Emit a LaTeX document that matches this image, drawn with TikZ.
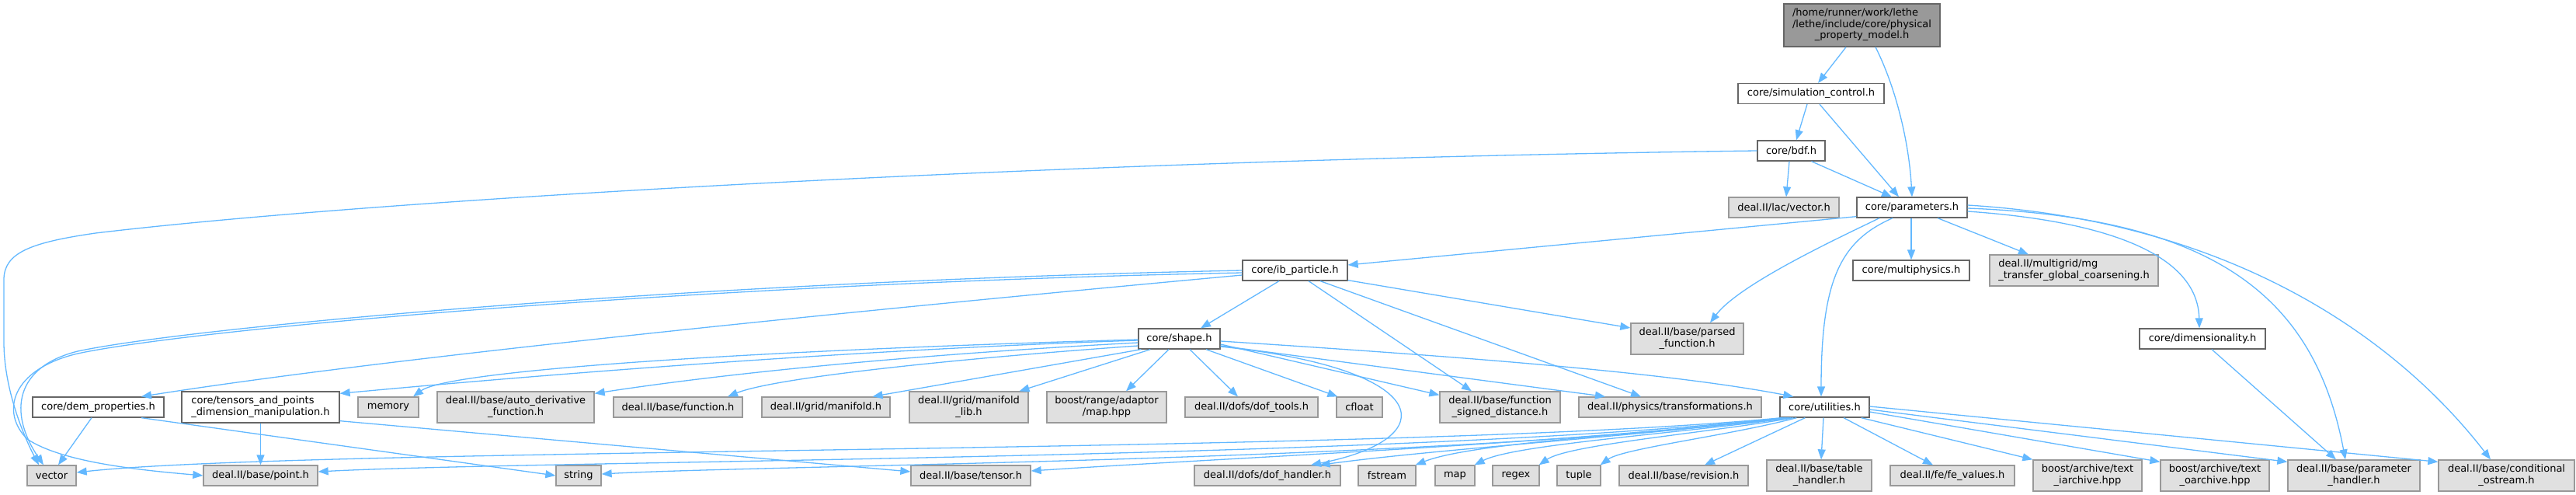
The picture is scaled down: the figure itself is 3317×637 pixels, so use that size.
\documentclass[tikz,border=0pt]{standalone}
\usepackage{fontspec}
\setmainfont{DejaVu Sans}
\usepackage{xcolor}
\usetikzlibrary{arrows.meta,calc}
\definecolor{hdrline}{HTML}{666666}
\definecolor{extline}{HTML}{999999}
\definecolor{extfill}{HTML}{E0E0E0}
\definecolor{mainfill}{HTML}{999999}
\definecolor{lnkblue}{HTML}{63B8FF}
\newcommand{\twoln}[2]{\begin{tabular}{@{}l@{}}#1\\\multicolumn{1}{@{}c@{}}{#2}\end{tabular}}

\begin{document}
\begin{tikzpicture}[x=1pt, y=-1pt, font=\fontsize{13}{14.5}\selectfont,
  hdr/.style={draw=hdrline, fill=white, line width=1.3pt, inner sep=0pt, minimum height=26, minimum width=#1},
  ext/.style={hdr=#1, draw=extline, fill=extfill},
  tall/.style={minimum height=40},
  lnk/.style={draw=lnkblue, line width=1.3pt, -{Triangle[length=13pt,width=10pt]}}]
\useasboundingbox (0,0) rectangle (3317,637);
\node[hdr=201, fill=mainfill, minimum height=55] (phys) at (2397.5,32.5) {\begin{tabular}{@{}l@{}}/home/runner/work/lethe\\/lethe/include/core/physical\\\multicolumn{1}{@{}c@{}}{\_property\_model.h}\end{tabular}};
\node[hdr=188] (simctl) at (2332,120.5) {core/simulation\_control.h};
\node[hdr=87] (bdf) at (2306.5,194) {core/bdf.h};
\node[ext=142] (lacvec) at (2297,267) {deal.II/lac/vector.h};
\node[hdr=142] (params) at (2462,267) {core/parameters.h};
\node[hdr=135] (ibpart) at (1667.5,348) {core/ib\_particle.h};
\node[hdr=150] (multiphys) at (2461,348) {core/multiphysics.h};
\node[ext=217, tall] (mgt) at (2670.5,348) {\twoln{deal.II/multigrid/mg}{\_transfer\_global\_coarsening.h}};
\node[hdr=105] (shape) at (1518.5,436) {core/shape.h};
\node[ext=145, tall] (parsed) at (2172.5,436) {\twoln{deal.II/base/parsed}{\_function.h}};
\node[hdr=162] (dimens) at (2836,436) {core/dimensionality.h};
\node[hdr=169] (dem) at (126.5,524) {core/dem\_properties.h};
\node[hdr=203, tall] (tensors) at (335.5,524) {\twoln{core/tensors\_and\_points}{\_dimension\_manipulation.h}};
\node[ext=78] (memory) at (500,524) {memory};
\node[ext=202, tall] (autoderiv) at (664,524) {\twoln{deal.II/base/auto\_derivative}{\_function.h}};
\node[ext=166] (function) at (873,524) {deal.II/base/function.h};
\node[ext=165] (manifold) at (1063.5,524) {deal.II/grid/manifold.h};
\node[ext=153, tall] (manifoldlib) at (1247.5,524) {\twoln{deal.II/grid/manifold}{\_lib.h}};
\node[ext=154, tall] (rangemap) at (1425,524) {\twoln{boost/range/adaptor}{/map.hpp}};
\node[ext=171] (doftools) at (1611.5,524) {deal.II/dofs/dof\_tools.h};
\node[ext=59] (cfloat) at (1750.5,524) {cfloat};
\node[ext=155, tall] (fsd) at (1931.5,524) {\twoln{deal.II/base/function}{\_signed\_distance.h}};
\node[ext=235] (transf) at (2150.5,524) {deal.II/physics/transformations.h};
\node[hdr=115] (utilities) at (2349.5,524) {core/utilities.h};
\node[ext=63] (vector) at (66.5,612) {vector};
\node[ext=147] (point) at (335.5,612) {deal.II/base/point.h};
\node[ext=58] (string) at (745,612) {string};
\node[ext=154] (tensor) at (1250,612) {deal.II/base/tensor.h};
\node[ext=188] (dofhandler) at (1632,612) {deal.II/dofs/dof\_handler.h};
\node[ext=74] (fstream) at (1786,612) {fstream};
\node[ext=51] (map) at (1873.5,612) {map};
\node[ext=60] (regex) at (1952,612) {regex};
\node[ext=56] (tuple) at (2033,612) {tuple};
\node[ext=166] (revision) at (2168,612) {deal.II/base/revision.h};
\node[ext=135, tall] (table) at (2342.5,612) {\twoln{deal.II/base/table}{\_handler.h}};
\node[ext=160] (fevalues) at (2514,612) {deal.II/fe/fe\_values.h};
\node[ext=140, tall] (iarch) at (2688,612) {\twoln{boost/archive/text}{\_iarchive.hpp}};
\node[ext=140, tall] (oarch) at (2852,612) {\twoln{boost/archive/text}{\_oarchive.hpp}};
\node[ext=170, tall] (paramh) at (3031,612) {\twoln{deal.II/base/parameter}{\_handler.h}};
\node[ext=175, tall] (condos) at (3227.5,612) {\twoln{deal.II/base/conditional}{\_ostream.h}};
\draw[lnk] ($(phys.south)+(-20.5,0)$) -- ($(simctl.north)+(9,0)$);
\draw[lnk] ($(phys.south)+(17.5,0)$) .. controls (2440,110) and (2458,180) .. (params.north);
\draw[lnk] ($(simctl.south)+(-5,0)$) -- ($(bdf.north)+(6.5,0)$);
\draw[lnk] ($(simctl.south)+(11,0)$) -- ($(params.north)+(-17,0)$);
\draw[lnk] ($(bdf.south)+(-2.5,0)$) -- ($(lacvec.north)+(3,0)$);
\draw[lnk] ($(bdf.south)+(26,0)$) -- ($(params.north)+(-26,0)$);
\draw[lnk] (bdf.west) .. controls (1400,205) and (500,255) .. (123,300) .. controls (40,312) and (5,325) .. (5,360) -- (5,440) .. controls (5,500) and (30,560) .. ($(vector.north)+(-16.5,0)$);
\draw[lnk] ($(params.south west)+(0,-2)$) -- ($(ibpart.east)+(0,-7)$);
\draw[lnk] ($(params.south)+(-42,0)$) .. controls (2370,305) and (2240,365) .. ($(parsed.north)+(29.5,0)$);
\draw[lnk] ($(params.south)+(-25,0)$) .. controls (2370,310) and (2345,360) .. ($(utilities.north)+(-4.5,0)$);
\draw[lnk] ($(params.south)+(-1,0)$) -- (multiphys.north);
\draw[lnk] ($(params.south)+(33,0)$) -- ($(mgt.north)+(-58.5,0)$);
\draw[lnk] ($(params.east)+(0,5)$) .. controls (2720,285) and (2830,330) .. ($(dimens.north)+(-4,0)$);
\draw[lnk] ($(params.east)+(0,1)$) .. controls (2850,280) and (2980,380) .. ($(paramh.north)+(-11,0)$);
\draw[lnk] ($(params.east)+(0,-3)$) .. controls (2880,285) and (3090,440) .. ($(condos.north)+(-20.5,0)$);
\draw[lnk] ($(dimens.south)+(12,0)$) -- ($(paramh.north)+(-23,0)$);
\draw[lnk] ($(ibpart.south)+(-20.5,0)$) -- ($(shape.north)+(27.5,0)$);
\draw[lnk] ($(ibpart.south)+(17.5,0)$) -- ($(fsd.north)+(-36.5,0)$);
\draw[lnk] ($(ibpart.south)+(32.5,0)$) -- ($(transf.north)+(-37.5,0)$);
\draw[lnk] ($(ibpart.south east)+(0,-1)$) -- ($(parsed.west)+(0,-14)$);
\draw[lnk] ($(ibpart.west)+(0,6)$) .. controls (1100,400) and (500,460) .. ($(dem.north)+(55.5,0)$);
\draw[lnk] (ibpart.west) .. controls (900,362) and (250,420) .. (100,452) .. controls (20,472) and (10,530) .. ($(vector.north)+(-10.5,0)$);
\draw[lnk] ($(ibpart.west)+(0,3)$) .. controls (900,365) and (250,423) .. (100,455) .. controls (15,475) and (0,530) .. (35,565) .. controls (80,595) and (180,605) .. (point.west);
\draw[lnk] ($(shape.west)+(0,2)$) .. controls (1100,450) and (700,482) .. ($(tensors.north east)+(0,3)$);
\draw[lnk] ($(shape.west)+(0,1)$) .. controls (1000,450) and (580,475) .. ($(memory.north)+(32,0)$);
\draw[lnk] ($(shape.west)+(0,5)$) .. controls (1200,455) and (950,478) .. ($(autoderiv.north east)+(0,3)$);
\draw[lnk] ($(shape.west)+(0,9)$) .. controls (1250,460) and (1000,485) .. ($(function.north)+(64,0)$);
\draw[lnk] ($(shape.south west)+(4,0)$) -- ($(manifold.north)+(60,0)$);
\draw[lnk] ($(shape.south west)+(16,0)$) -- ($(manifoldlib.north)+(65,0)$);
\draw[lnk] ($(shape.south)+(-13.5,0)$) -- ($(rangemap.north)+(25,0)$);
\draw[lnk] ($(shape.south)+(13.5,0)$) -- ($(doftools.north)+(-17.5,0)$);
\draw[lnk] ($(shape.south)+(34.5,0)$) -- ($(cfloat.north west)+(2,0)$);
\draw[lnk] ($(shape.east)+(0,7)$) -- ($(fsd.north west)+(0,5)$);
\draw[lnk] ($(shape.east)+(0,9)$) -- ($(transf.north)+(-83.5,0)$);
\draw[lnk] ($(shape.east)+(0,3)$) .. controls (1900,460) and (2150,480) .. ($(utilities.north west)+(18,0)$);
\draw[lnk] ($(shape.east)+(0,10)$) .. controls (1850,475) and (1860,565) .. ($(dofhandler.north)+(56,0)$);
\draw[lnk] (tensors.south) -- (point.north);
\draw[lnk] ($(tensors.south east)+(0,-3)$) -- ($(tensor.west)+(0,-5)$);
\draw[lnk] ($(dem.south)+(-8.5,0)$) -- ($(vector.north)+(8.5,0)$);
\draw[lnk] ($(dem.south)+(55.5,0)$) -- (string.west);
\draw[lnk] ($(utilities.south west)+(3,0)$) .. controls (1800,585) and (400,575) .. ($(vector.east)+(0,-4)$);
\draw[lnk] ($(utilities.south west)+(5,0)$) .. controls (1800,592) and (700,592) .. ($(point.east)+(0,-5)$);
\draw[lnk] ($(utilities.south west)+(7,0)$) .. controls (1850,594) and (1000,598) .. ($(string.east)+(0,-2)$);
\draw[lnk] ($(utilities.south west)+(9,0)$) .. controls (2000,572) and (1600,588) .. ($(tensor.east)+(0,-6)$);
\draw[lnk] ($(utilities.south west)+(11,0)$) .. controls (2100,562) and (1850,578) .. ($(dofhandler.north east)+(-27,0)$);
\draw[lnk] ($(utilities.south west)+(13,0)$) .. controls (2150,557) and (1900,568) .. ($(fstream.north east)+(-1,0)$);
\draw[lnk] ($(utilities.south west)+(15,0)$) .. controls (2160,558) and (1950,572) .. ($(map.north east)+(-1,0)$);
\draw[lnk] ($(utilities.south west)+(18,0)$) .. controls (2200,557) and (2020,572) .. ($(regex.north east)+(-1,0)$);
\draw[lnk] ($(utilities.south west)+(22,0)$) .. controls (2230,560) and (2090,577) .. ($(tuple.north east)+(-1,0)$);
\draw[lnk] ($(utilities.south west)+(33,0)$) -- ($(revision.north)+(27,0)$);
\draw[lnk] ($(utilities.south)+(-1.5,0)$) -- ($(table.north)+(2.5,0)$);
\draw[lnk] ($(utilities.south)+(24.5,0)$) -- ($(fevalues.north)+(-25,0)$);
\draw[lnk] ($(utilities.south east)+(-11,0)$) -- (iarch.north west);
\draw[lnk] ($(utilities.east)+(0,6)$) -- ($(oarch.north west)+(0,3)$);
\draw[lnk] ($(utilities.east)+(0,3)$) -- ($(paramh.north west)+(0,3)$);
\draw[lnk] ($(utilities.east)+(0,-1)$) -- ($(condos.north west)+(0,3)$);
\end{tikzpicture}
\end{document}
